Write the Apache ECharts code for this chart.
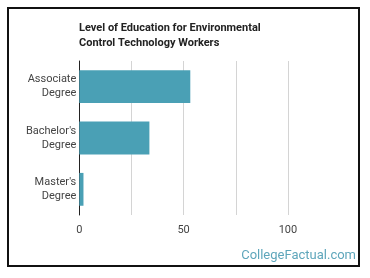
<!DOCTYPE html>
<html><head><meta charset="utf-8">
<script src="https://cdn.jsdelivr.net/npm/echarts@6/dist/echarts.min.js"></script>
<style>html,body{margin:0;padding:0;background:#fff}#c{width:370px;height:278px}</style>
</head><body><div id="c"></div>
<script>
var categories = ["Associate\nDegree", "Bachelor's\nDegree", "Master's\nDegree"];
var values = [53.2, 33.6, 2];
var tickValues = [0, 50, 100];
var chart = echarts.init(document.getElementById('c'), null, {renderer: 'canvas'});
chart.setOption({
  animation: false,
  backgroundColor: '#fff',
  title: {
    text: 'Level of Education for Environmental\nControl Technology Workers',
    left: 74, top: 16,
    textStyle: {fontFamily: 'Roboto', fontSize: 11, fontWeight: 'bold', color: '#222', lineHeight: 15}
  },
  graphic: [
    {type: 'rect', shape: {x: 8, y: 8, width: 351, height: 258}, style: {fill: 'none', stroke: '#111', lineWidth: 2}, silent: true},
    {type: 'text', right: 14, top: 249, style: {text: 'CollegeFactual.com', fontFamily: 'Roboto', fontSize: 13, fill: '#5ea6bb'}}
  ],
  grid: {left: 79.3, top: 61, width: 258.7, height: 154, containLabel: false},
  xAxis: {
    type: 'value', min: 0, max: 124, interval: 25,
    axisLine: {show: false}, axisTick: {show: false},
    splitLine: {show: true, showMaxLine: false, lineStyle: {color: '#d4d4d4', width: 1}},
    axisLabel: {
      margin: 10, fontFamily: 'Roboto', fontSize: 11, color: '#444',
      formatter: function (v) { return tickValues.indexOf(v) >= 0 ? String(v) : ''; }
    }
  },
  yAxis: {
    type: 'category', data: categories, inverse: true,
    axisLine: {show: true, lineStyle: {color: '#222', width: 1}},
    axisTick: {show: false},
    axisLabel: {margin: 3, fontFamily: 'Roboto', fontSize: 11, color: '#444', lineHeight: 14, align: 'right'}
  },
  series: [{
    type: 'bar', data: values, barCategoryGap: '36%',
    itemStyle: {color: '#4aa0b5'}
  }]
});
</script></body></html>
